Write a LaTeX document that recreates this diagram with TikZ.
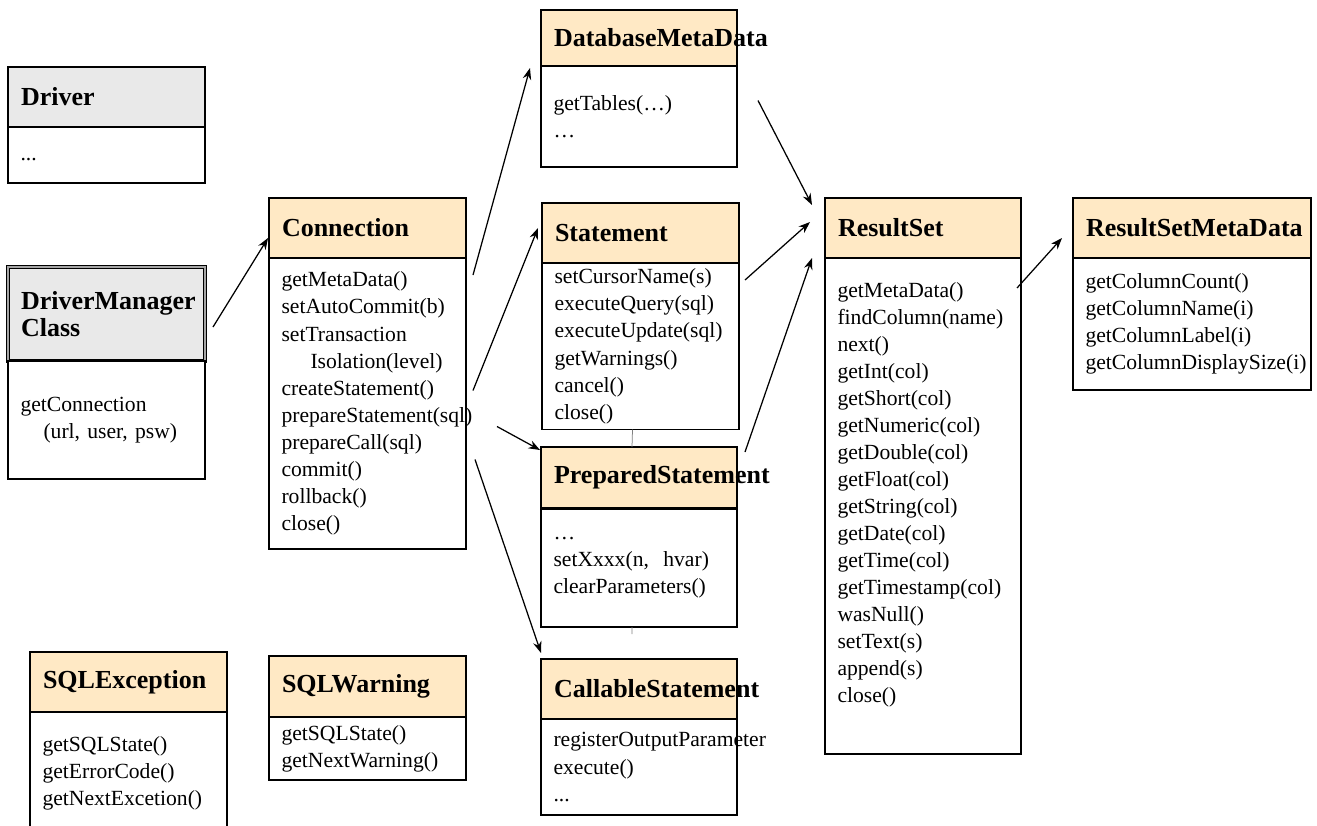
\documentclass[tikz,border=0pt]{standalone}
\usepackage{fontspec}
\setmainfont{Liberation Serif}
\usetikzlibrary{positioning,arrows.meta}
\definecolor{hdrfill}{RGB}{255,233,197}
\definecolor{grayfill}{RGB}{233,233,233}
\hyphenpenalty=10000

\begin{document}
\begin{tikzpicture}[x=0.2mm, y=-0.2mm, line width=0.3mm,
    >={Stealth[length=2.3mm, width=1.7mm]},
    hdr/.style={draw, fill=hdrfill, anchor=north west, align=left, outer sep=0pt,
      text width=34.2mm, inner xsep=2.6mm, minimum height=12mm,
      font=\fontsize{14.8}{15.4}\selectfont\bfseries},
    body/.style={draw, fill=white, align=left, outer sep=0pt,
      text width=34.4mm, inner xsep=2.5mm, font=\fontsize{12.3}{15.4}\selectfont},
    link/.style={->, line width=0.25mm}]
  \useasboundingbox (0,0) rectangle (1317,825);

  % left column
  \node[hdr, fill=grayfill] (drv) at (8,67) {Driver};
  \node[body, minimum height=11.2mm, below=0pt of drv] (drvb) {\strut...};

  \node[hdr, fill=grayfill, minimum height=18.8mm, double=gray!70, double distance=0.35mm] (dm) at (8,267) {DriverManager\\Class};
  \node[body, minimum height=23.6mm, below=0pt of dm] (dmb) {getConnection\\ \hspace*{4.6mm}(url, user, psw)};

  \node[hdr] (sqle) at (30,652) {SQLException};
  \node[body, minimum height=24.4mm, below=0pt of sqle] (sqleb) {getSQLState()\\ getErrorCode()\\ getNextExcetion()};

  % connection
  \node[hdr] (conn) at (269,198) {Connection};
  \node[body, minimum height=58.2mm, below=0pt of conn] (connb) {getMetaData()\\ setAutoCommit(b)\\ setTransaction\\ \hspace*{5.8mm}Isolation(level)\\ createStatement()\\ prepareStatement(sql)\\ prepareCall(sql)\\ commit()\\ rollback()\\ close()};

  \node[hdr, minimum height=12.2mm] (sqlw) at (269,656) {SQLWarning};
  \node[body, minimum height=12.6mm, below=0pt of sqlw] (sqlwb) {getSQLState()\\ getNextWarning()};

  % statements
  \node[hdr, text width=34mm, minimum height=11.2mm] (dbmd) at (541,10) {DatabaseMetaData};
  \node[body, text width=34.2mm, minimum height=20.2mm, below=0pt of dbmd] (dbmdb) {getTables(…)\\ …};

  \node[hdr] (stmt) at (542,203) {Statement};
  \node[body, minimum height=33.2mm, below=0pt of stmt] (stmtb) {setCursorName(s)\\ executeQuery(sql)\\ executeUpdate(sql)\\ getWarnings()\\ cancel()\\ close()};

  \node[hdr, text width=34mm, minimum height=12.2mm] (prep) at (541,447) {PreparedStatement};
  \node[body, text width=34.2mm, minimum height=23.8mm, below=0pt of prep] (prepb) {…\\ setXxxx(n,\ \ hvar)\\ clearParameters()};
  \draw[line width=0.6mm] (prep.south west) -- (prep.south east);

  \node[hdr, text width=34mm] (call) at (541,659) {CallableStatement};
  \node[body, text width=34.2mm, minimum height=19.2mm, below=0pt of call] (callb) {registerOutputParameter\\ execute()\\ ...};

  \draw[line width=0.15mm, gray] ([shift={(-8,0)}]stmtb.south) -- ([shift={(-7,0)}]prep.north);
  \coordinate (stub) at (632,634);
  \draw[line width=0.15mm, gray] ([shift={(-7,0)}]prepb.south) -- (stub);

  % result set
  \node[hdr, text width=34mm] (rs) at (825,198) {ResultSet};
  \node[body, text width=34.2mm, minimum height=99.2mm, below=0pt of rs] (rsb) {getMetaData()\\ findColumn(name)\\ next()\\ getInt(col)\\ getShort(col)\\ getNumeric(col)\\ getDouble(col)\\ getFloat(col)\\ getString(col)\\ getDate(col)\\ getTime(col)\\ getTimestamp(col)\\ wasNull()\\ setText(s)\\ append(s)\\ close()\\ \mbox{}};

  \node[hdr, text width=42.4mm] (rsmd) at (1073,198) {ResultSetMetaData};
  \node[body, text width=42.6mm, minimum height=26.4mm, below=0pt of rsmd] (rsmdb) {getColumnCount()\\ getColumnName(i)\\ getColumnLabel(i)\\ getColumnDisplaySize(i)};

  % links
  \draw[link] ([shift={(8,13)}]dm.east) -- ([shift={(-1,10)}]conn.west);
  \draw[link] ([shift={(7,17)}]connb.north east) -- ([shift={(-11,2)}]dbmd.south west);
  \draw[link] ([shift={(7,-13)}]connb.east) -- ([shift={(-4,-5)}]stmt.west);
  \draw[link] ([shift={(31,23)}]connb.east) -- ([shift={(-1,3)}]prep.north west);
  \draw[link] ([shift={(9,56)}]connb.east) -- ([shift={(0,-6)}]call.north west);
  \draw[link] ([shift={(21,-16)}]dbmdb.east) -- ([shift={(-13,7)}]rs.north west);
  \draw[link] ([shift={(6,17)}]stmtb.north east) -- ([shift={(-15,-6)}]rs.west);
  \draw[link] ([shift={(8,5)}]prep.north east) -- ([shift={(-13,0)}]rs.south west);
  \draw[link] ([shift={(-4,30)}]rsb.north east) -- ([shift={(-11,10)}]rsmd.west);
\end{tikzpicture}
\end{document}
